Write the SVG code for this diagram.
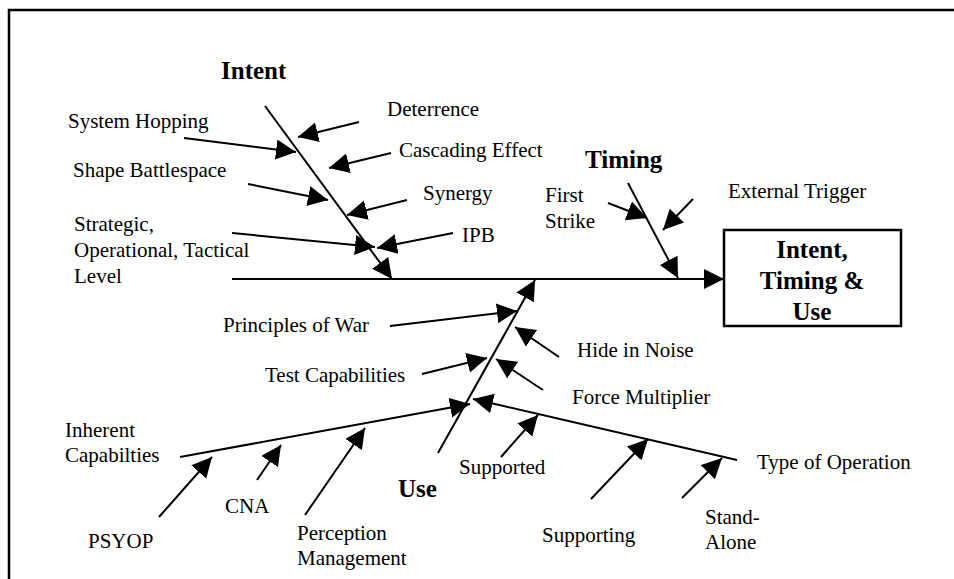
<svg xmlns="http://www.w3.org/2000/svg" width="954" height="579" viewBox="0 0 954 579">
<defs>
<marker id="ah" markerUnits="userSpaceOnUse" markerWidth="22" markerHeight="22" refX="20" refY="10" orient="auto">
<path d="M0,0 L20,10 L0,20 z" fill="#000"/>
</marker>
<style>
text{font-family:"Liberation Serif","Times New Roman",serif;font-size:21px;fill:#000}
.t{font-weight:bold;font-size:25px}
.c line{stroke:#000;stroke-width:2;marker-end:url(#ah)}
.frame{fill:none;stroke:#000;stroke-width:2.5}
.box{fill:#fff;stroke:#000;stroke-width:2.5}
</style>
</defs>
<rect width="954" height="579" fill="#fff"/>
<path class="frame" d="M9,579 V10 H954"/>

<g id="connectors" class="c">
<line x1="232" y1="279" x2="724" y2="279"/>
<line x1="265" y1="106" x2="392" y2="279"/>
<line x1="628" y1="183" x2="678" y2="278"/>
<line x1="438" y1="453" x2="535" y2="280"/>
<line x1="184" y1="138" x2="296" y2="152"/>
<line x1="248" y1="184" x2="328" y2="200"/>
<line x1="232" y1="233" x2="375" y2="247"/>
<line x1="359" y1="122" x2="298" y2="137"/>
<line x1="391" y1="153" x2="329" y2="168"/>
<line x1="407" y1="200" x2="347" y2="215"/>
<line x1="453" y1="233" x2="377" y2="248"/>
<line x1="608" y1="203" x2="647" y2="218"/>
<line x1="693" y1="199" x2="663" y2="230"/>
<line x1="390" y1="326" x2="517" y2="311"/>
<line x1="422" y1="374" x2="487" y2="358"/>
<line x1="559" y1="357" x2="515" y2="327"/>
<line x1="543" y1="390" x2="496" y2="359"/>
<line x1="180" y1="457" x2="470" y2="404"/>
<line x1="737" y1="460" x2="473" y2="399"/>
<line x1="159" y1="517" x2="212" y2="457"/>
<line x1="257" y1="480" x2="281" y2="445"/>
<line x1="305" y1="515" x2="365" y2="428"/>
<line x1="501" y1="457" x2="538" y2="415"/>
<line x1="591" y1="499" x2="648" y2="439"/>
<line x1="682" y1="498" x2="722" y2="458"/>
</g>

<g id="effect">
<rect class="box" x="724" y="230" width="177" height="96"/>
<text class="t" x="812" y="258" text-anchor="middle">Intent,</text>
<text class="t" x="812" y="289" text-anchor="middle">Timing &amp;</text>
<text class="t" x="812" y="320" text-anchor="middle">Use</text>
</g>

<g id="intent"><text class="t" x="221" y="79">Intent</text></g>
<g id="timing"><text class="t" x="585" y="168">Timing</text></g>
<g id="use"><text class="t" x="398" y="497">Use</text></g>

<g id="system-hopping"><text x="68" y="128">System Hopping</text></g>
<g id="shape-battlespace"><text x="73" y="177">Shape Battlespace</text></g>
<g id="levels"><text x="74" y="231">Strategic,</text><text x="74" y="257">Operational, Tactical</text><text x="74" y="283">Level</text></g>
<g id="deterrence"><text x="387" y="116">Deterrence</text></g>
<g id="cascading-effect"><text x="399" y="157">Cascading Effect</text></g>
<g id="synergy"><text x="423" y="200">Synergy</text></g>
<g id="ipb"><text x="462" y="242">IPB</text></g>
<g id="first-strike"><text x="545" y="202">First</text><text x="545" y="228">Strike</text></g>
<g id="external-trigger"><text x="728" y="198">External Trigger</text></g>
<g id="principles-of-war"><text x="223" y="332">Principles of War</text></g>
<g id="test-capabilities"><text x="265" y="382">Test Capabilities</text></g>
<g id="hide-in-noise"><text x="577" y="357">Hide in Noise</text></g>
<g id="force-multiplier"><text x="572" y="404">Force Multiplier</text></g>
<g id="inherent-capabilities"><text x="65" y="437">Inherent</text><text x="65" y="462">Capabilties</text></g>
<g id="psyop"><text x="88" y="548">PSYOP</text></g>
<g id="cna"><text x="225" y="513">CNA</text></g>
<g id="perception-management"><text x="297" y="540">Perception</text><text x="297" y="565">Management</text></g>
<g id="supported"><text x="459" y="474">Supported</text></g>
<g id="supporting"><text x="542" y="542">Supporting</text></g>
<g id="stand-alone"><text x="705" y="524">Stand-</text><text x="705" y="549">Alone</text></g>
<g id="type-of-operation"><text x="757" y="469">Type of Operation</text></g>
</svg>
